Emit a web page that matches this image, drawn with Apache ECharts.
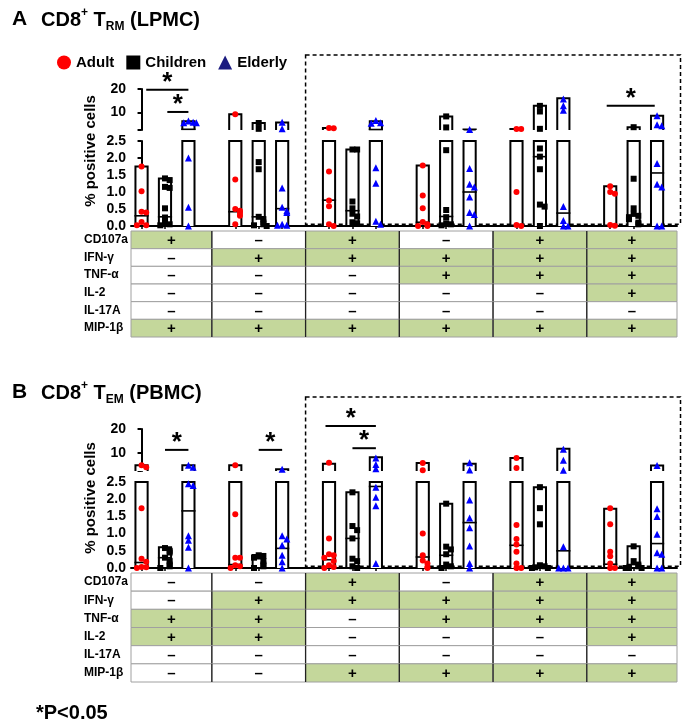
<!DOCTYPE html>
<html>
<head>
<meta charset="utf-8">
<script src="https://cdn.jsdelivr.net/npm/echarts@6/dist/echarts.min.js"></script>
<style>
html, body { margin: 0; padding: 0; background: #fff; }
#main { width: 686px; height: 726px; }
</style>
</head>
<body>
<div id="main"></div>
<script>
// 分组和表格行
var groupNames = ['Adult', 'Children', 'Elderly'];
var groupColors = ['#ff0000', '#000000', '#0000ff'];
var groupSymbols = ['circle', 'rect', 'triangle'];
var rowLabels = ['CD107a', 'IFN-γ', 'TNF-α', 'IL-2', 'IL-17A', 'MIP-1β'];

// 表格 (1 = +, 0 = –), 每行 6 列
var tableA = [
	[1, 0, 1, 0, 1, 1],
	[0, 1, 1, 1, 1, 1],
	[0, 0, 0, 1, 1, 1],
	[0, 0, 0, 0, 0, 1],
	[0, 0, 0, 0, 0, 0],
	[1, 1, 1, 1, 1, 1]
];
var tableB = [
	[0, 0, 1, 0, 1, 1],
	[0, 1, 1, 1, 1, 1],
	[1, 1, 0, 1, 1, 1],
	[1, 1, 0, 0, 0, 1],
	[0, 0, 0, 0, 0, 0],
	[0, 0, 1, 1, 1, 1]
];

// A: CD8+ TRM (LPMC) 各点
var adultA = [
	[1.75, 1.02, 0.42, 0.40, 0.12, 0.02, 0.02],
	[9.2, 1.37, 0.5, 0.45, 0.38, 0.3, 0.05],
	[3.4, 3.2, 1.6, 0.75, 0.58, 0.05, 0.0],
	[1.78, 0.9, 0.52, 0.12, 0.05, 0.0, 0.0],
	[2.9, 2.9, 1.0, 0.03, 0.0],
	[1.17, 1.0, 0.95, 0.03, 0.01]
];
var childrenA = [
	[1.4, 1.35, 1.15, 1.12, 0.52, 0.25, 0.1, 0.05, 0.02],
	[5.5, 3.0, 1.88, 1.67, 0.27, 0.2, 0.1, 0.05, 0.02, 0.0],
	[2.25, 2.25, 0.72, 0.52, 0.36, 0.28, 0.11, 0.08],
	[8.3, 3.6, 2.23, 0.47, 0.26, 0.08, 0.05, 0.02],
	[12.8, 10.4, 3.0, 2.28, 2.04, 1.67, 0.63, 0.57, 0.0],
	[3.7, 1.39, 0.52, 0.36, 0.3, 0.26, 0.2, 0.1, 0.05]
];
var elderlyA = [
	[6.3, 5.8, 5.6, 5.6, 2.0, 0.55, 0.0],
	[5.8, 3.0, 1.12, 0.55, 0.45, 0.4, 0.05, 0.02, 0.02],
	[6.6, 5.6, 5.4, 1.71, 1.26, 0.14, 0.05],
	[2.7, 1.69, 1.23, 1.15, 0.85, 0.4, 0.34, 0.0],
	[15.7, 12.8, 10.9, 0.57, 0.16, 0.0, 0.0],
	[8.6, 4.7, 4.3, 1.84, 1.23, 1.15, 0.0, 0.0]
];
// 柱高 / 中位线
var adultTopA = [1.75, 9.2, 3.4, 1.78, 2.9, 1.17];
var childrenTopA = [1.4, 5.5, 2.25, 8.3, 12.8, 3.7];
var elderlyTopA = [6.2, 5.7, 6.2, 2.7, 16, 8.6];
var adultMedA = [0.3, 0.42, 0.76, 0.11, 0.02, 0.02];
var childrenMedA = [0.27, 0.27, 0.45, 0.28, 2.04, 0.3];
var elderlyMedA = [2.8, 0.51, 2.7, 1.0, 0.38, 1.56];
// 显著性 [x1, x2, y]
var sigA = [[0.2, 2, 19.7], [1.1, 2, 10.2], [19.85, 21.9, 12.8]];

// B: CD8+ TEM (PBMC)
var adultB = [
	[4.9, 4.1, 1.74, 0.27, 0.18, 0.03, 0.02, 0.0],
	[4.9, 1.56, 0.3, 0.3, 0.08, 0.05, 0.0],
	[5.9, 0.86, 0.4, 0.37, 0.3, 0.2, 0.08, 0.03, 0.0],
	[5.8, 2.8, 1.0, 0.37, 0.22, 0.13, 0.03, 0.0],
	[7.9, 3.8, 1.25, 0.84, 0.68, 0.47, 0.13, 0.0, 0.0],
	[1.74, 1.27, 0.47, 0.34, 0.13, 0.0, 0.0]
];
var childrenB = [
	[0.58, 0.5, 0.45, 0.3, 0.2, 0.1, 0.05, 0.0],
	[0.37, 0.35, 0.3, 0.2, 0.1, 0.05, 0.0],
	[2.2, 1.22, 1.1, 0.86, 0.27, 0.2, 0.05, 0.0],
	[1.87, 0.62, 0.54, 0.4, 0.1, 0.05, 0.0],
	[2.35, 1.74, 1.27, 0.08, 0.05, 0.02, 0.0, 0.0],
	[0.63, 0.2, 0.1, 0.05, 0.0, 0.0, 0.0]
];
var elderlyB = [
	[4.9, 4.1, 2.45, 2.4, 0.94, 0.81, 0.6, 0.0],
	[3.2, 0.94, 0.84, 0.66, 0.37, 0.18, 0.0],
	[7.9, 5.2, 3.4, 2.35, 2.06, 1.81, 0.13],
	[5.9, 2.9, 1.98, 1.45, 1.17, 0.64, 0.13, 0.0],
	[11.6, 7.0, 2.8, 0.62, 0.0, 0.0, 0.0],
	[4.8, 1.72, 1.5, 0.98, 0.44, 0.4, 0.0, 0.0]
];
var adultTopB = [4.9, 4.9, 5.5, 5.8, 7.9, 1.72];
var childrenTopB = [0.6, 0.38, 2.2, 1.87, 2.35, 0.63];
var elderlyTopB = [4.9, 3.2, 8.2, 5.5, 11.8, 4.8];
var adultMedB = [0.16, 0.1, 0.24, 0.32, 0.66, 0.11];
var childrenMedB = [0.3, 0.27, 0.86, 0.37, 0.05, 0.1];
var elderlyMedB = [1.66, 0.57, 2.37, 1.32, 0.5, 0.71];
var sigB = [[1, 2, 11.3], [5, 6, 11.3], [7.85, 10, 21.2], [9, 10, 12]];

var BREAK = 2.5;
var X_MIN = -0.45, X_MAX = 22.85;
var GREEN = '#c4d79b';
var jitter = [0, 0.2, -0.2, 0.34, -0.34, 0.1, -0.1];

var myChart = echarts.init(document.getElementById('main'));

// 相近的点左右错开
function spread(vals, tol) {
	var seen = [];
	return vals.map(function(v) {
		var n = 0;
		seen.forEach(function(u) { if (Math.abs(u - v) < tol) n++; });
		seen.push(v);
		return jitter[n % jitter.length];
	});
}

// 柱子: lo 部分开口在上, up 部分开口在下
function barSeries(data, part, ax) {
	return {
		type : 'custom',
		xAxisIndex : ax, yAxisIndex : ax,
		clip : false, z : 2, silent : true,
		data : data,
		renderItem : function(params, api) {
			var x = api.value(0), top = api.value(1), med = api.value(2);
			if (part == 'up' && top <= BREAK) return null;
			var w = api.size([0.52, 0])[0];
			var yLo = part == 'lo' ? 0 : BREAK;
			var yTop = part == 'lo' ? Math.min(top, BREAK) : top;
			var p0 = api.coord([x, yLo]), p1 = api.coord([x, yTop]);
			var l = p0[0] - w / 2, r = p0[0] + w / 2;
			var kids = [];
			kids.push({type : 'rect', shape : {x : l, y : p1[1], width : w, height : p0[1] - p1[1]},
				style : {fill : '#fff', stroke : null}});
			var pts;
			if (part == 'lo' && top <= BREAK) {
				pts = [[l, p0[1]], [l, p1[1]], [r, p1[1]], [r, p0[1]], [l, p0[1]]];
			} else {
				pts = [[l, p0[1]], [l, p1[1]], [r, p1[1]], [r, p0[1]]];
			}
			kids.push({type : 'polyline', shape : {points : pts},
				style : {fill : null, stroke : '#000', lineWidth : 2}});
			var inPart = part == 'lo' ? med <= BREAK : med > BREAK;
			if (inPart) {
				var pm = api.coord([x, med]);
				kids.push({type : 'line', shape : {x1 : l - 1, y1 : pm[1], x2 : r + 1, y2 : pm[1]},
					style : {stroke : '#000', lineWidth : 1.6}});
			}
			return {type : 'group', children : kids};
		}
	};
}

function dotSeries(k, data, ax) {
	return {
		type : 'scatter',
		name : groupNames[k],
		xAxisIndex : ax, yAxisIndex : ax,
		clip : false, z : 3,
		symbol : groupSymbols[k],
		symbolSize : k == 2 ? 7 : 6,
		itemStyle : {color : groupColors[k], opacity : 1},
		data : data
	};
}

// 显著性线和星号
function sigSeries(sig, ax) {
	return {
		type : 'custom',
		xAxisIndex : ax, yAxisIndex : ax,
		clip : false, z : 4, silent : true,
		data : sig,
		renderItem : function(params, api) {
			var a = api.coord([api.value(0), api.value(2)]);
			var b = api.coord([api.value(1), api.value(2)]);
			return {type : 'group', children : [
				{type : 'line', shape : {x1 : a[0], y1 : a[1], x2 : b[0], y2 : b[1]},
					style : {stroke : '#000', lineWidth : 2}},
				{type : 'text', style : {text : '*', x : (a[0] + b[0]) / 2, y : a[1] + 6,
					align : 'center', verticalAlign : 'bottom',
					font : 'bold 26px "Liberation Sans", Arial', fill : '#000'}}
			]};
		}
	};
}

// 下方的 +/– 表格
function tableSeries(table, ax) {
	var data = [];
	table.forEach(function(row, r) {
		row.forEach(function(v, g) { data.push([g, r, v]); });
	});
	return {
		type : 'custom',
		xAxisIndex : ax, yAxisIndex : ax,
		clip : false, silent : true,
		data : data,
		renderItem : function(params, api) {
			var g = api.value(0), r = api.value(1), v = api.value(2);
			var xa = Math.max(g * 4 - 1, X_MIN), xb = Math.min(g * 4 + 3, X_MAX);
			var pa = api.coord([xa, r]), pb = api.coord([xb, r]);
			var h = api.size([0, 1])[1];
			var t = pa[1] - h / 2;
			var kids = [
				{type : 'rect', shape : {x : pa[0], y : t, width : pb[0] - pa[0], height : h},
					style : {fill : v ? GREEN : '#fff', stroke : '#a0a0a0', lineWidth : 1}},
				{type : 'text', style : {text : v ? '+' : '–', x : (pa[0] + pb[0]) / 2, y : pa[1] + 1,
					align : 'center', verticalAlign : 'middle',
					font : 'bold 15px "Liberation Sans", Arial', fill : '#000'}}
			];
			if (g > 0) {
				kids.push({type : 'line', shape : {x1 : pa[0], y1 : t, x2 : pa[0], y2 : t + h},
					style : {stroke : '#222', lineWidth : 1.3}});
			}
			return {type : 'group', children : kids};
		}
	};
}

function panelSeries(pts, tops, meds, sig, table, ax) {
	var out = [];
	for (var k = 0; k < 3; k++) {
		var barData = tops[k].map(function(t, g) { return [g * 4 + k, t, meds[k][g]]; });
		out.push(barSeries(barData, 'lo', ax + 1));
		out.push(barSeries(barData, 'up', ax));
		var lo = [], up = [];
		pts[k].forEach(function(vals, g) {
			var below = vals.filter(function(v) { return v <= BREAK; });
			var above = vals.filter(function(v) { return v > BREAK; });
			var ob = spread(below, 0.12), oa = spread(above, 1.5);
			below.forEach(function(v, i) { lo.push([g * 4 + k + ob[i], v]); });
			above.forEach(function(v, i) { up.push([g * 4 + k + oa[i], v]); });
		});
		out.push(dotSeries(k, lo, ax + 1));
		out.push(dotSeries(k, up, ax));
	}
	out.push(sigSeries(sig, ax));
	out.push(tableSeries(table, ax + 2));
	return out;
}

var subTicks = [];
for (var g = 0; g < 6; g++) { subTicks.push(g * 4, g * 4 + 1, g * 4 + 2); }

var labelFont = {fontSize : 14, fontWeight : 'bold', color : '#000', fontFamily : '"Liberation Sans", Arial'};

function xAxes(gi) {
	return [
		{type : 'value', gridIndex : gi, min : X_MIN, max : X_MAX, show : false},
		{type : 'value', gridIndex : gi + 1, min : X_MIN, max : X_MAX,
			axisLine : {show : true, onZero : false, lineStyle : {color : '#000', width : 2}},
			axisTick : {show : true, customValues : subTicks, length : 3, lineStyle : {color : '#000', width : 1.5}},
			axisLabel : {show : false}, splitLine : {show : false}},
		{type : 'value', gridIndex : gi + 2, min : X_MIN, max : X_MAX, show : false}
	];
}
function yAxes(gi) {
	return [
		{type : 'value', gridIndex : gi, min : BREAK, max : 20,
			axisLine : {show : true, lineStyle : {color : '#000', width : 2}},
			axisTick : {show : true, customValues : [BREAK, 10, 20], length : 4, lineStyle : {color : '#000', width : 2}},
			axisLabel : Object.assign({customValues : [10, 20], margin : 5}, labelFont),
			splitLine : {show : false}},
		{type : 'value', gridIndex : gi + 1, min : 0, max : BREAK, interval : 0.5,
			axisLine : {show : true, lineStyle : {color : '#000', width : 2}},
			axisTick : {show : true, length : 4, lineStyle : {color : '#000', width : 2}},
			axisLabel : Object.assign({margin : 5, formatter : function(v) { return v.toFixed(1); }}, labelFont),
			splitLine : {show : false}},
		{type : 'category', gridIndex : gi + 2, data : rowLabels, inverse : true,
			axisLine : {show : false}, axisTick : {show : false},
			axisLabel : {align : 'left', margin : 47, fontSize : 12, fontWeight : 'bold', color : '#000',
				fontFamily : '"Liberation Sans", Arial'}}
	];
}

var titleRich = {
	m : {fontSize : 20, fontWeight : 'bold', color : '#000', fontFamily : '"Liberation Sans", Arial', lineHeight : 26},
	s : {fontSize : 12, fontWeight : 'bold', color : '#000', fontFamily : '"Liberation Sans", Arial', verticalAlign : 'top', lineHeight : 26},
	b : {fontSize : 12, fontWeight : 'bold', color : '#000', fontFamily : '"Liberation Sans", Arial', verticalAlign : 'bottom', lineHeight : 22}
};

var option = {
	animation : false,
	backgroundColor : '#fff',
	title : [
		{text : 'A', left : 7, top : 4, textStyle : {fontSize : 21, fontWeight : 'bold', color : '#000', fontFamily : '"Liberation Sans", Arial'}},
		{text : '{m|CD8}{s|+}{m| T}{b|RM}{m| (LPMC)}', left : 36, top : 2, textStyle : {rich : titleRich}},
		{text : 'B', left : 7, top : 377, textStyle : {fontSize : 21, fontWeight : 'bold', color : '#000', fontFamily : '"Liberation Sans", Arial'}},
		{text : '{m|CD8}{s|+}{m| T}{b|EM}{m| (PBMC)}', left : 36, top : 375, textStyle : {rich : titleRich}}
	],
	legend : {
		left : 52, top : 50, itemWidth : 14, itemHeight : 14, itemGap : 12, selectedMode : false,
		textStyle : {fontSize : 15, fontWeight : 'bold', color : '#000', fontFamily : '"Liberation Sans", Arial'},
		data : [
			{name : 'Adult', icon : 'circle'},
			{name : 'Children', icon : 'rect'},
			{name : 'Elderly', icon : 'triangle', itemStyle : {color : '#1c1c80'}}
		]
	},
	grid : [
		{left : 131, width : 546, top : 89, height : 41},
		{left : 131, width : 546, top : 141, height : 85},
		{left : 131, width : 546, top : 231, height : 106},
		{left : 131, width : 546, top : 429, height : 42},
		{left : 131, width : 546, top : 482, height : 86},
		{left : 131, width : 546, top : 573, height : 109}
	],
	xAxis : xAxes(0).concat(xAxes(3)),
	yAxis : yAxes(0).concat(yAxes(3)),
	series : panelSeries([adultA, childrenA, elderlyA], [adultTopA, childrenTopA, elderlyTopA],
			[adultMedA, childrenMedA, elderlyMedA], sigA, tableA, 0)
		.concat(panelSeries([adultB, childrenB, elderlyB], [adultTopB, childrenTopB, elderlyTopB],
			[adultMedB, childrenMedB, elderlyMedB], sigB, tableB, 3))
};
myChart.setOption(option);

// 虚线框和其他文字
var a0 = myChart.convertToPixel({xAxisIndex : 1, yAxisIndex : 1}, [7, 0.05]);
var a1 = myChart.convertToPixel({xAxisIndex : 1, yAxisIndex : 1}, [23, 0.05]);
var b0 = myChart.convertToPixel({xAxisIndex : 4, yAxisIndex : 4}, [7, 0.05]);
var b1 = myChart.convertToPixel({xAxisIndex : 4, yAxisIndex : 4}, [23, 0.05]);
myChart.setOption({
	graphic : [
		{type : 'rect', shape : {x : a0[0], y : 55, width : a1[0] - a0[0], height : a0[1] - 55},
			style : {fill : null, stroke : '#000', lineWidth : 1.5, lineDash : [4, 3]}, z : 1},
		{type : 'rect', shape : {x : b0[0], y : 397, width : b1[0] - b0[0], height : b0[1] - 397},
			style : {fill : null, stroke : '#000', lineWidth : 1.5, lineDash : [4, 3]}, z : 1},
		{type : 'text', x : 91, y : 151, rotation : Math.PI / 2,
			style : {text : '% positive cells', align : 'center', verticalAlign : 'middle',
				font : 'bold 15px "Liberation Sans", Arial', fill : '#000'}},
		{type : 'text', x : 91, y : 498, rotation : Math.PI / 2,
			style : {text : '% positive cells', align : 'center', verticalAlign : 'middle',
				font : 'bold 15px "Liberation Sans", Arial', fill : '#000'}},
		{type : 'text', x : 36, y : 713,
			style : {text : '*P<0.05', align : 'left', verticalAlign : 'middle',
				font : 'bold 20px "Liberation Sans", Arial', fill : '#000'}}
	]
});
</script>
</body>
</html>
